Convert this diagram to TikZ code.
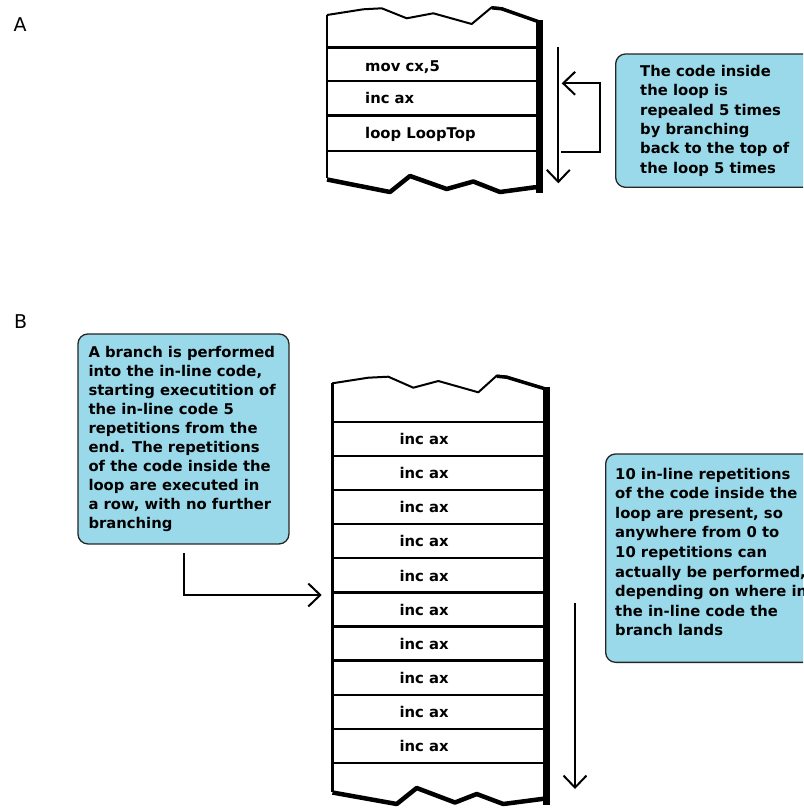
\documentclass[tikz,border=0pt]{standalone}
\usepackage{fontspec}
\setmainfont{DejaVu Sans}
\usetikzlibrary{arrows.meta}
\definecolor{calloutfill}{HTML}{99D9EA}
\begin{document}
\begin{tikzpicture}[x=1pt,y=-1pt,
  codetext/.style={font=\fontsize{14.8}{18}\selectfont\bfseries, inner sep=0pt, anchor=base west},
  calloutbox/.style={draw=black!85, line width=1.3pt, fill=calloutfill, rounded corners=10pt, anchor=north west, inner sep=0pt},
  callouttext/.style={inner sep=0pt, anchor=base west},
  rowline/.style={line width=2.4pt},
  stackside/.style={line width=2.6pt},
  stacktop/.style={line width=2pt, line join=round},
  stackbottom/.style={line width=4.5pt, line join=round},
  stackright/.style={line width=6.5pt},
  flow/.style={line width=2pt, -{Straight Barb[length=12pt,width=23pt,line width=2pt]}},
  panellabel/.style={font=\fontsize{19}{22}\selectfont, inner sep=0pt, anchor=base west}
]
\useasboundingbox (0,0) rectangle (803,810);
\fill[white] (0,0) rectangle (803,810);
\clip (0,0) rectangle (803,810);

% ---------- panel labels ----------
\node[panellabel] (labA) at (13.5,31.5) {A};
\node[panellabel] (labB) at (14,328.3) {B};

% ---------- Panel A stack ----------
\draw[stackside] (327,15) -- (327,178.3);
\draw[stacktop] (327,15) -- (363.3,9.3) -- (381.7,8.3) -- (406.7,18.3) -- (433.3,13.3) -- (471.7,24) -- (491.7,7.3) -- (501.7,8.3) -- (535,20.7) -- (539,22);
\draw[line width=3.5pt, line join=round] (491.7,7.8) -- (501.7,8.8) -- (538,21.5);
\draw[stackright] (539.7,20.5) -- (539.7,192.7);
\draw[stackbottom] (327,179.5) -- (390,192) -- (410,176) -- (446.7,189) -- (473.3,181.5) -- (500,192) -- (533.3,187.5) -- (542,187);
\foreach \yy in {47.5,81,115.7,151.3} \draw[rowline] (327,\yy) -- (537,\yy);
\node[codetext] (a1) at (365,71.5) {mov cx,5};
\node[codetext] (a2) at (365,103.5) {inc ax};
\node[codetext] (a3) at (365,138.3) {loop LoopTop};

% ---------- Panel A arrows ----------
\coordinate (adTop) at (558.3,46.7);
\coordinate (adBot) at (558.3,183.3);
\draw[flow] (adTop) -- (adBot);
\coordinate (lpStart) at (561,151.7);
\coordinate (lpC1) at (600,151.7);
\coordinate (lpC2) at (600,83.3);
\coordinate (lpEnd) at (561.7,83.3);
\draw[flow] (lpStart) -- (lpC1) -- (lpC2) -- (lpEnd);

% ---------- Panel A callout ----------
\node[calloutbox, minimum width=210pt, minimum height=133.4pt] (cA) at (615,53.3) {};
\node[callouttext] (cAtext) at (640,76.7) {\fontsize{14.8}{19.3}\selectfont\bfseries
  \begin{tabular}[t]{@{}l@{}}The code inside\\ the loop is\\ repealed 5 times\\ by branching\\ back to the top of\\ the loop 5 times\end{tabular}};

% ---------- Panel B stack ----------
\draw[stackside] (332.5,383.3) -- (332.5,792);
\draw[stacktop] (332.3,383.3) -- (368.3,377.7) -- (388.3,376.7) -- (413.3,387.7) -- (438.3,381) -- (478.3,392.3) -- (496.7,375.7) -- (506.7,376.7) -- (541.7,387.7) -- (546,389);
\draw[line width=3.5pt, line join=round] (496.7,376.2) -- (506.7,377.2) -- (544,388.5);
\draw[stackright] (546.6,387) -- (546.6,805);
\draw[stackbottom] (332.5,792.5) -- (396.7,804) -- (416.7,788) -- (455,802.5) -- (476.7,794) -- (503.3,804) -- (541.7,799) -- (548,798.5);
\foreach \k in {0,...,10} \draw[rowline] (332.5,421.7+\k*34.13) -- (544,421.7+\k*34.13);
\foreach \k in {0,...,9} \node[codetext] (b\k) at (399.3,444.6+\k*34.13) {inc ax};

% ---------- Panel B arrows ----------
\coordinate (bdTop) at (575,603);
\coordinate (bdBot) at (575,789);
\draw[flow] (bdTop) -- (bdBot);
\coordinate (brStart) at (184,553.3);
\coordinate (brCorner) at (184,595);
\coordinate (brEnd) at (321.7,595);
\draw[flow] (brStart) -- (brCorner) -- (brEnd);

% ---------- Panel B callouts ----------
\node[calloutbox, minimum width=211pt, minimum height=210pt] (cB1) at (77.3,333.3) {};
\node[callouttext] (cB1text) at (88.3,357.3) {\fontsize{14.8}{19}\selectfont\bfseries
  \begin{tabular}[t]{@{}l@{}}A branch is performed\\ into the in-line code,\\ starting executition of\\ the in-line code 5\\ repetitions from the\\ end. The repetitions\\ of the code inside the\\ loop are executed in\\ a row, with no further\\ branching\end{tabular}};

\node[calloutbox, minimum width=215pt, minimum height=208.4pt] (cB2) at (605,453.3) {};
\node[callouttext] (cB2text) at (615,479) {\fontsize{14.8}{19.6}\selectfont\bfseries
  \begin{tabular}[t]{@{}l@{}}10 in-line repetitions\\ of the code inside the\\ loop are present, so\\ anywhere from 0 to\\ 10 repetitions can\\ actually be performed,\\ depending on where in\\ the in-line code the\\ branch lands\end{tabular}};
\end{tikzpicture}
\end{document}
